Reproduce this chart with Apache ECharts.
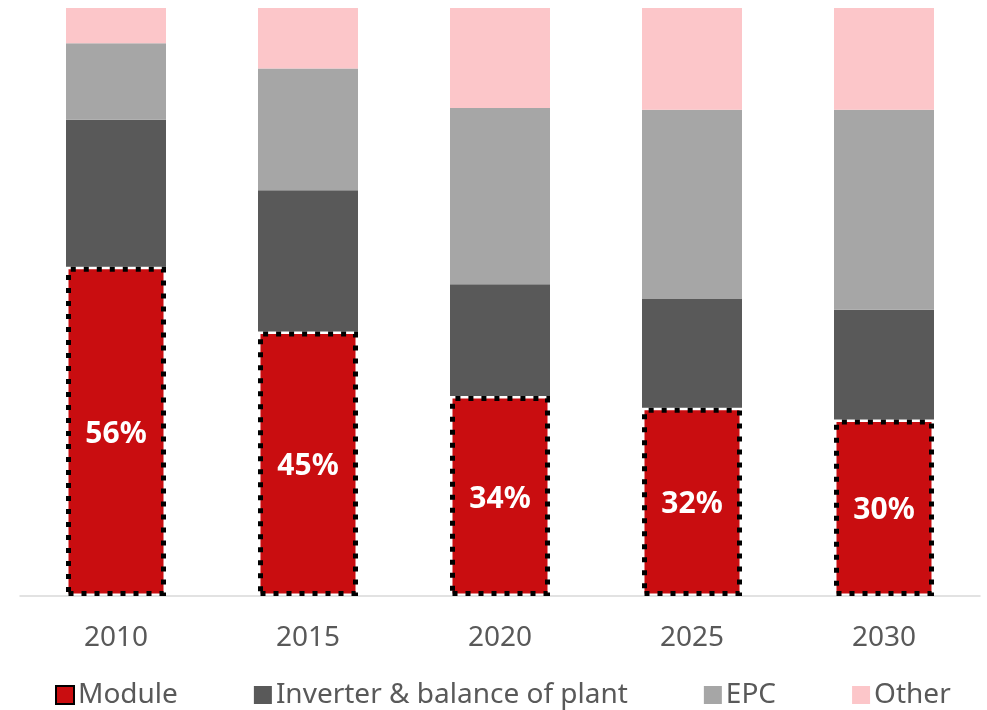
<!DOCTYPE html>
<html><head><meta charset="utf-8">
<script src="https://cdn.jsdelivr.net/npm/echarts@6/dist/echarts.min.js"></script>
<style>html,body{margin:0;padding:0;background:#fff}#c{width:987px;height:710px}</style>
</head><body><div id="c"></div>
<script>
const categories = ['2010','2015','2020','2025','2030'];
const moduleVals = [56, 45, 34, 32, 30];
const inverterVals = [25, 24, 19, 18.5, 18.7];
const epcVals = [13, 20.7, 30, 32.2, 34];
const otherVals = [6, 10.3, 17, 17.3, 17.3];
const seriesNames = ['Module','Inverter & balance of plant','EPC','Other'];

const chart = echarts.init(document.getElementById('c'));
const font = '"Noto Sans", "Open Sans", sans-serif';
chart.setOption({
  animation: false,
  textStyle: {fontFamily: font},
  grid: {left: 20, right: 7, top: 8, bottom: 114},
  legend: {
    left: 50, top: 676, itemWidth: 18, itemHeight: 18, itemGap: 76, icon: 'rect',
    textStyle: {fontSize: 28, color: '#595959', fontFamily: font, padding: [0,0,0,-1]},
    data: seriesNames
  },
  xAxis: {
    type: 'category', data: categories,
    axisLine: {lineStyle: {color: '#d9d9d9', width: 1.5}},
    axisTick: {show: false},
    axisLabel: {fontSize: 28, color: '#595959', margin: 28, fontFamily: font}
  },
  yAxis: {type: 'value', min: 0, max: 100, show: false, splitLine: {show: false}},
  series: [
    {name: seriesNames[0], type: 'bar', stack: 's', data: moduleVals, barWidth: 100,
     itemStyle: {color: '#C90D10', borderColor: '#000', borderWidth: 5, borderType: [5, 8]},
     label: {show: true, position: 'inside', formatter: p => p.value + '%', color: '#fff', fontSize: 30, fontWeight: 'bold', fontFamily: font, offset: [0, 3]},
     z: 3},
    {name: seriesNames[1], type: 'bar', stack: 's', data: inverterVals, itemStyle: {color: '#595959'}},
    {name: seriesNames[2], type: 'bar', stack: 's', data: epcVals, itemStyle: {color: '#A6A6A6'}},
    {name: seriesNames[3], type: 'bar', stack: 's', data: otherVals, itemStyle: {color: '#FCC6C9'}}
  ]
});
</script></body></html>
